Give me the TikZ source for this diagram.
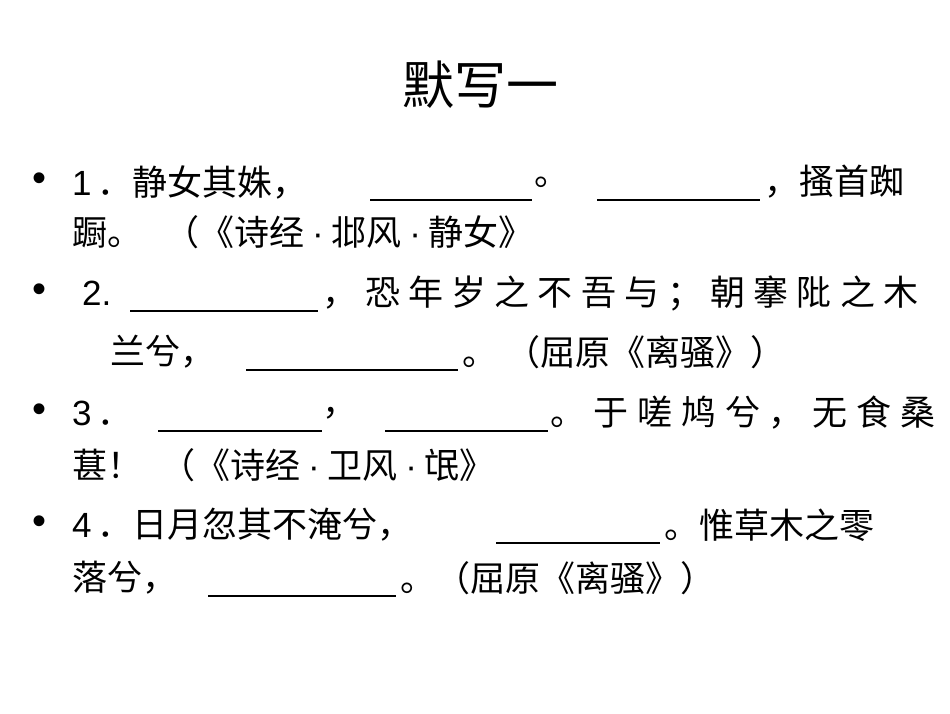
\documentclass[tikz,border=0pt]{standalone}
\usepackage{fontspec}
\setmainfont{Noto Sans CJK SC}
\newfontfamily\lat{Liberation Sans}
\begin{document}
\begin{tikzpicture}[x=1pt,y=-1pt,
  t/.style={anchor=west,inner sep=0pt,font=\fontsize{35}{38}\selectfont},
  bu/.style={anchor=west,inner sep=0pt,font=\fontsize{40}{40}\selectfont\lat},
  bl/.style={line width=1.6pt}]
\useasboundingbox (0,0) rectangle (950,713);
\fill[white] (0,0) rectangle (950,713);
\node[inner sep=0pt,font=\fontsize{52}{56}\selectfont] (title) at (480,85) {默写一};
% line 1
\node[bu] (b1) at (32,182) {•};
\node[t] (l1a) at (72,182) {\lat 1\,\normalfont ．静女其姝，};
\coordinate (u1a) at (370,200); \coordinate (u1b) at (532,200);
\draw[bl] (u1a) -- (u1b);
\node[t] (l1b) at (534,182) {。};
\coordinate (u2a) at (597,200); \coordinate (u2b) at (760,200);
\draw[bl] (u2a) -- (u2b);
\node[t] (l1c) at (764,182) {，搔首踟};
\node[t] (l2) at (72,232) {蹰。\hspace{22pt}（《诗经 {\lat ·} 邶风 {\lat ·} 静女》};
% line 3
\node[bu] (b2) at (32,293) {•};
\node[t] (l3a) at (82,293) {\lat 2.};
\coordinate (u3a) at (130,311); \coordinate (u3b) at (318,311);
\draw[bl] (u3a) -- (u3b);
\node[t] (l3b) at (322,293) {\makebox[596pt][s]{，\hfill 恐\hfill 年\hfill 岁\hfill 之\hfill 不\hfill 吾\hfill 与\hfill ；\hfill 朝\hfill 搴\hfill 阰\hfill 之\hfill 木}};
\node[t] (l4a) at (110,352) {兰兮，};
\coordinate (u4a) at (246,370); \coordinate (u4b) at (458,370);
\draw[bl] (u4a) -- (u4b);
\node[t] (l4b) at (462,352) {。\hspace{8pt}（屈原《离骚》）};
% line 5
\node[bu] (b3) at (32,413) {•};
\node[t] (l5a) at (72,413) {\lat 3\,\normalfont ．};
\coordinate (u5a) at (158,431); \coordinate (u5b) at (322,431);
\draw[bl] (u5a) -- (u5b);
\node[t] (l5b) at (322,413) {，};
\coordinate (u6a) at (385,431); \coordinate (u6b) at (548,431);
\draw[bl] (u6a) -- (u6b);
\node[t] (l5c) at (550,413) {\makebox[385pt][s]{。\hfill 于\hfill 嗟\hfill 鸠\hfill 兮\hfill ，\hfill 无\hfill 食\hfill 桑}};
\node[t] (l6) at (72,465) {葚！\hspace{18pt}（《诗经 {\lat ·} 卫风 {\lat ·} 氓》};
% line 7
\node[bu] (b4) at (32,525) {•};
\node[t] (l7a) at (72,525) {\lat 4\,\normalfont ．日月忽其不淹兮，};
\coordinate (u7a) at (496,543); \coordinate (u7b) at (660,543);
\draw[bl] (u7a) -- (u7b);
\node[t] (l7b) at (664,525) {。惟草木之零};
\node[t] (l8a) at (72,578) {落兮，};
\coordinate (u8a) at (208,596); \coordinate (u8b) at (396,596);
\draw[bl] (u8a) -- (u8b);
\node[t] (l8b) at (400,578) {。（屈原《离骚》）};
\end{tikzpicture}
\end{document}
